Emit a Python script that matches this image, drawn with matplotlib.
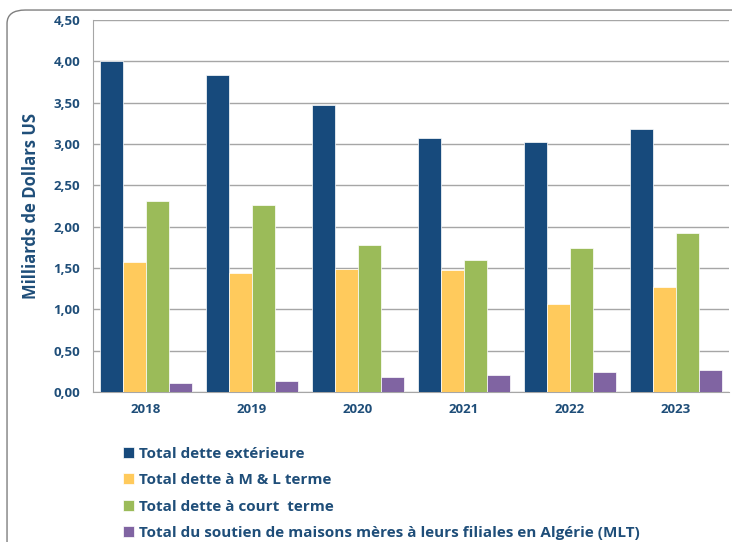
import numpy as np
import matplotlib
matplotlib.use("Agg")
import matplotlib.pyplot as plt
from matplotlib.patches import FancyBboxPatch

years = ['2018', '2019', '2020', '2021', '2022', '2023']
dette_ext = [4.00, 3.83, 3.47, 3.07, 3.03, 3.18]
dette_ml = [1.57, 1.44, 1.49, 1.48, 1.06, 1.27]
dette_ct = [2.31, 2.26, 1.78, 1.60, 1.74, 1.92]
soutien = [0.11, 0.13, 0.18, 0.21, 0.24, 0.26]

labels = ['Total dette extérieure',
          'Total dette à M & L terme',
          'Total dette à court  terme',
          'Total du soutien de maisons mères à leurs filiales en Algérie (MLT)']
colors = ['#174A7C', '#FFCA5C', '#9BBB59', '#8064A2']
txt = '#1F4E79'

plt.rcParams['font.family'] = ['Open Sans', 'DejaVu Sans']

fig = plt.figure(figsize=(7.32, 5.42), dpi=100)
ax = fig.add_axes([0.127, 0.2768, 0.8689, 0.6863])

# rounded frame around the chart, cut off by the image edge
frame = FancyBboxPatch((0.0096, -0.05), 1.05, 0.9815 + 0.05,
                       boxstyle='round,pad=0,rounding_size=0.025',
                       transform=fig.transFigure, fill=False,
                       edgecolor='#7F7F7F', linewidth=1.0, zorder=0)
fig.patches.append(frame)

x = np.arange(len(years))
w = 0.217
series = [dette_ext, dette_ml, dette_ct, soutien]
handles = []
for i, vals in enumerate(series):
    b = ax.bar(x + (i - 1.5) * w, vals, width=w, color=colors[i],
               edgecolor='white', linewidth=0.5, zorder=3, label=labels[i])
    handles.append(b)

ax.set_xlim(-0.5, 5.5)
ax.set_ylim(0, 4.5)
ax.set_yticks(np.arange(0, 4.51, 0.5))
ax.set_yticklabels([f'{v:.2f}'.replace('.', ',') for v in np.arange(0, 4.51, 0.5)])
ax.set_xticks(x)
ax.set_xticklabels(years)
ax.tick_params(length=0, colors=txt, labelsize=9.5)
for lab in ax.get_xticklabels() + ax.get_yticklabels():
    lab.set_fontweight('bold')
ax.tick_params(axis='x', pad=8)
ax.tick_params(axis='y', pad=9)

ax.yaxis.grid(True, color='#A6A6A6', linewidth=1.0, zorder=0)
ax.set_axisbelow(True)
for s in ['top', 'right']:
    ax.spines[s].set_visible(False)
ax.spines['left'].set_color('#A6A6A6')
ax.spines['bottom'].set_color('#A6A6A6')

ax.set_ylabel('Milliards de Dollars US', fontsize=12, fontweight='bold',
              color=txt, labelpad=10)

leg = fig.legend(handles=handles, labels=labels, loc='upper left',
                 bbox_to_anchor=(0.168, 0.176), frameon=False,
                 handlelength=0.75, handleheight=0.75, handletextpad=0.3,
                 labelspacing=0.82, borderaxespad=0, borderpad=0,
                 prop={'size': 11, 'weight': 'bold'})
for t in leg.get_texts():
    t.set_color(txt)

fig.savefig('out.png', dpi=100)
